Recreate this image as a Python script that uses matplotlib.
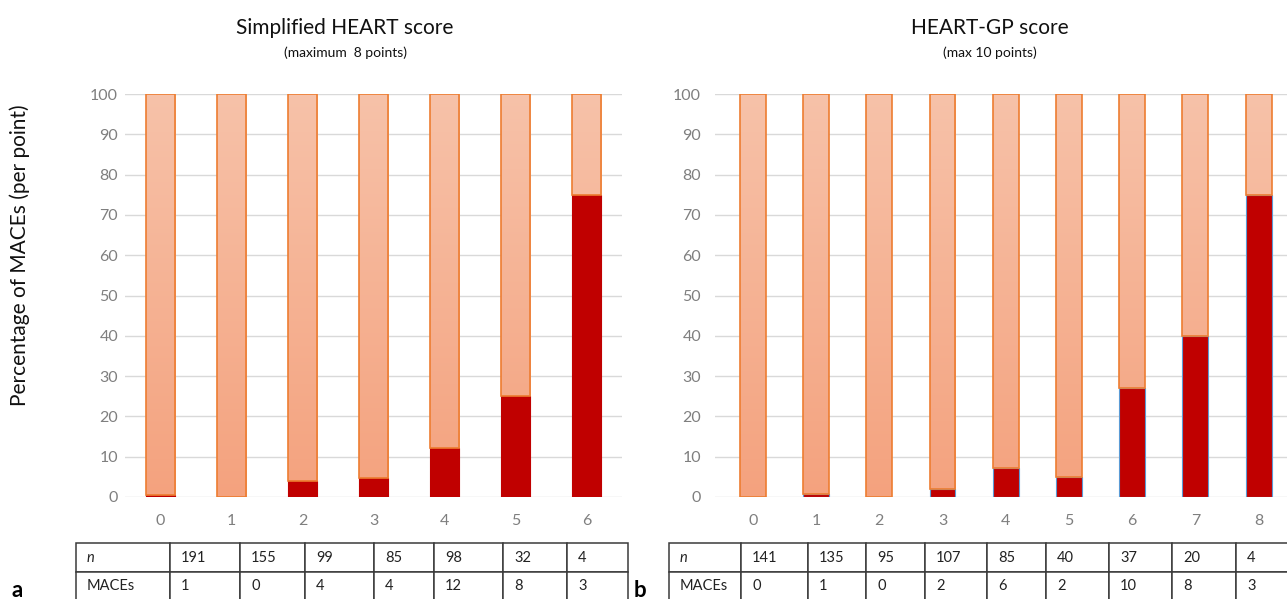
import numpy as np
import matplotlib
matplotlib.use("Agg")
import matplotlib.pyplot as plt
from matplotlib.colors import LinearSegmentedColormap

plt.rcParams['font.family'] = ['Lato', 'DejaVu Sans']

# データ
left_scores = ['0', '1', '2', '3', '4', '5', '6']
left_pct = [0.5, 0, 4.0, 4.7, 12.2, 25, 75]
left_n = ['191', '155', '99', '85', '98', '32', '4']
left_maces = ['1', '0', '4', '4', '12', '8', '3']

right_scores = ['0', '1', '2', '3', '4', '5', '6', '7', '8']
right_pct = [0, 0.7, 0, 1.9, 7.1, 5, 27, 40, 75]
right_n = ['141', '135', '95', '107', '85', '40', '37', '20', '4']
right_maces = ['0', '1', '0', '2', '6', '2', '10', '8', '3']

W, H = 1287, 599
fig = plt.figure(figsize=(W / 100, H / 100), dpi=100)

grad_cmap = LinearSegmentedColormap.from_list('g', ['#F4A27E', '#F7C2A9'])
grad = np.linspace(0, 1, 256).reshape(-1, 1)


def draw_bars(ax, scores, pct, width, red_edge):
    x = np.arange(len(scores))
    pct = np.array(pct, dtype=float)
    ax.bar(x, pct, width, color='#C00000', edgecolor=red_edge, linewidth=0.8, zorder=3)
    light = ax.bar(x, 100 - pct, width, bottom=pct, facecolor='none',
                   edgecolor='#ED7D31', linewidth=1.2, zorder=4)
    # グラデーション
    for xi, p in zip(x, light.patches):
        im = ax.imshow(grad, extent=[xi - width / 2, xi + width / 2, 0, 100],
                       origin='lower', aspect='auto', cmap=grad_cmap, zorder=2)
        im.set_clip_path(p)
    ax.set_ylim(0, 100)
    ax.set_yticks(range(0, 101, 10))
    ax.set_xticks(x)
    ax.set_xticklabels(scores)
    ax.grid(axis='y', color='#D9D9D9', linewidth=1, zorder=0)
    ax.set_axisbelow(True)
    for s in ax.spines.values():
        s.set_visible(False)
    ax.tick_params(length=0, labelsize=11.5, colors='#7F7F7F')
    ax.tick_params(axis='x', pad=12)


def draw_table(rect, n, maces, col_px):
    ax = fig.add_axes(rect)
    ax.axis('off')
    total = sum(col_px)
    tab = ax.table(cellText=[['n'] + n, ['MACEs'] + maces],
                   colWidths=[c / total for c in col_px],
                   cellLoc='left', bbox=[0, 0, 1, 1])
    tab.auto_set_font_size(False)
    for (r, c), cell in tab.get_celld().items():
        cell.set_edgecolor('#3A3A3A')
        cell.set_linewidth(1.1)
        cell.PAD = 11 / col_px[c]
        cell.get_text().set_fontsize(10.5)
        cell.get_text().set_color('#222222')
    tab[0, 0].get_text().set_fontstyle('italic')


# 左のグラフ
ax1 = fig.add_axes([125 / W, (H - 497) / H, 497 / W, 403 / H])
draw_bars(ax1, left_scores, left_pct, 0.42, '#C00000')
ax1.set_xlim(-0.5, 6.5)
ax1.tick_params(axis='y', pad=5)

# 右のグラフ
ax2 = fig.add_axes([715 / W, (H - 497) / H, 572 / W, 403 / H])
draw_bars(ax2, right_scores, right_pct, 0.41, '#5B9BD5')
ax2.set_xlim(-0.6, 8.45)
ax2.tick_params(axis='y', pad=10)

# タイトル
fig.text(345 / W, 1 - 28 / H, 'Simplified HEART score', ha='center', va='center',
         fontsize=15, color='#111111')
fig.text(345 / W, 1 - 53 / H, '(maximum  8 points)', ha='center', va='center',
         fontsize=10, color='#111111')
fig.text(990 / W, 1 - 28 / H, 'HEART-GP score', ha='center', va='center',
         fontsize=15, color='#111111')
fig.text(990 / W, 1 - 53 / H, '(max 10 points)', ha='center', va='center',
         fontsize=10, color='#111111')
fig.text(20 / W, 1 - 255 / H, 'Percentage of MACEs (per point)', rotation=90,
         ha='center', va='center', fontsize=15, color='#111111')

# 表
draw_table([76 / W, -2 / H, 552 / W, 58 / H], left_n, left_maces,
           [94, 70, 65, 69, 60, 69, 64, 61])
draw_table([669 / W, -2 / H, 621 / W, 58 / H], right_n, right_maces,
           [72, 67, 58, 59, 62, 59, 63, 63, 64, 54])

# パネルラベル
fig.text(12 / W, 2 / H, 'a', fontsize=16, fontweight='bold', va='baseline')
fig.text(634 / W, 2 / H, 'b', fontsize=16, fontweight='bold', va='baseline')

fig.savefig('out.png', dpi=100)
